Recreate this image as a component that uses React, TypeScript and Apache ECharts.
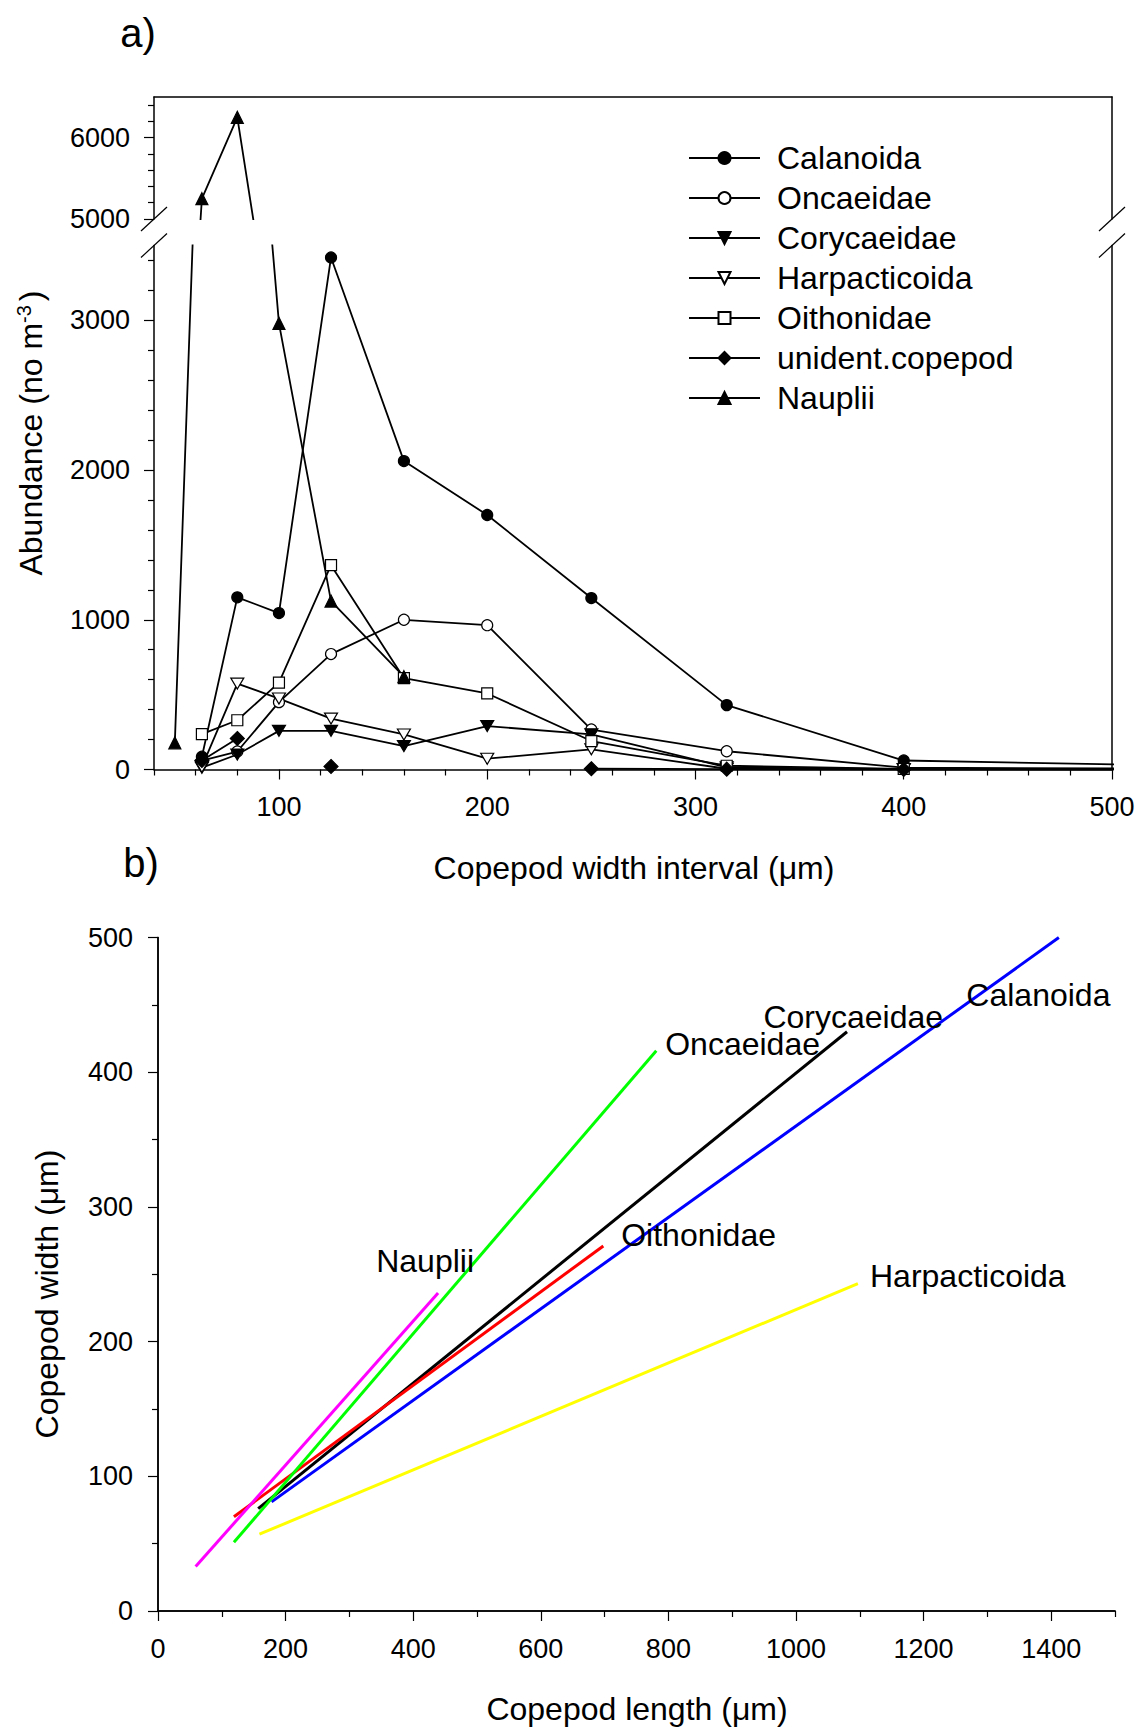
import React, { useEffect, useRef } from "react";
import * as echarts from "echarts";

const FONT = '"Liberation Sans", Arial, Helvetica, sans-serif';

// ---------- Panel a: abundance per width class ----------
const sizeClasses = [50, 63, 80, 100, 125, 160, 200, 250, 315, 400, 630];
const calanoida = [null, 85, 1150, 1045, 3420, 2060, 1700, 1145, 430, 60, 0];
const oncaeidae = [null, 60, 120, 450, 771, 1000, 964, 267, 122, 12, 0];
const corycaeidae = [null, 12, 100, 258, 258, 156, 290, 235, 15, 3, 0];
const harpacticoida = [null, 18, 574, 474, 340, 234, 72, 135, 5, 1, 0];
const oithonidae = [null, 236, 329, 580, 1365, 610, 508, 190, 25, 4, 0];
const unident = [null, 60, 207, null, 20, null, null, 5, 2, 0, 0];
const nauplii = [178, 5250, 6250, 2980, 1125, 620, null, null, null, null, null];

const xLabelsA = [100, 200, 300, 400, 500];
const yLabelsLower = [0, 1000, 2000, 3000];
const yLabelsUpper = [5000, 6000];

// ---------- Panel b: width vs length regressions ----------
const lenB_Nauplii = [59, 439];
const widB_Nauplii = [33, 236];
const lenB_Oncaeidae = [119, 781];
const widB_Oncaeidae = [51, 416];
const lenB_Corycaeidae = [157, 1080];
const widB_Corycaeidae = [76, 430];
const lenB_Calanoida = [178, 1412];
const widB_Calanoida = [81, 500];
const lenB_Oithonidae = [119, 698];
const widB_Oithonidae = [70, 271];
const lenB_Harpacticoida = [159, 1097];
const widB_Harpacticoida = [57, 243];

const labelNamesB = ["Nauplii", "Oncaeidae", "Corycaeidae", "Calanoida", "Oithonidae", "Harpacticoida"];
const labelLenB = [342, 795, 949, 1267, 726, 1116];
const labelWidB = [260, 421, 441, 457, 279, 249];

const xLabelsB = [0, 200, 400, 600, 800, 1000, 1200, 1400];
const yLabelsB = [0, 100, 200, 300, 400, 500];

const range = (a: number, b: number, s: number) => {
  const out: number[] = [];
  for (let v = a; v <= b + 1e-9; v += s) out.push(v);
  return out;
};

const DOWN_TRI = "path://M0,0 L12,0 L6,11 Z";

function lineA(
  name: string,
  values: (number | null)[],
  symbol: string,
  filled: boolean,
  size: number | number[],
  xi = 1,
  yi = 3
) {
  return {
    type: "line",
    name,
    xAxisIndex: xi,
    yAxisIndex: yi,
    data: sizeClasses.map((x, i) => [x, values[i] == null ? "-" : values[i]]),
    symbol,
    symbolSize: size,
    showAllSymbol: true,
    symbolKeepAspect: true,
    itemStyle: { color: filled ? "#000" : "#fff", borderColor: "#000", borderWidth: 1.2 },
    lineStyle: { color: "#000", width: 1.8 },
    connectNulls: false,
    clip: true,
  };
}

function lineB(name: string, xs: number[], ys: number[], color: string) {
  return {
    type: "line",
    name,
    xAxisIndex: 3,
    yAxisIndex: 6,
    data: xs.map((x, i) => [x, ys[i]]),
    symbol: "none",
    lineStyle: { color, width: 3 },
    clip: true,
  };
}

const axisLineStyle = { show: true, lineStyle: { color: "#000", width: 1.5 } };
const labelStyle = { color: "#000", fontSize: 27, fontFamily: FONT };
const plain = (v: number) => String(v);

function lineOnly(gridIndex: number, min: number, max: number, position: string) {
  return {
    type: "value",
    gridIndex,
    min,
    max,
    position,
    axisLine: axisLineStyle,
    axisTick: { show: false },
    axisLabel: { show: false },
    splitLine: { show: false },
  };
}

function minorAxis(gridIndex: number, min: number, max: number, position: string, vals: number[]) {
  return {
    type: "value",
    gridIndex,
    min,
    max,
    position,
    axisLine: { show: false },
    axisTick: { show: true, length: 6, customValues: vals, lineStyle: { color: "#000", width: 1.2 } },
    axisLabel: { show: false },
    splitLine: { show: false },
  };
}

function mainAxis(
  gridIndex: number,
  min: number,
  max: number,
  position: string,
  labels: number[],
  margin: number
) {
  return {
    type: "value",
    gridIndex,
    min,
    max,
    position,
    axisLine: axisLineStyle,
    axisTick: { show: true, length: 10, customValues: labels, lineStyle: { color: "#000", width: 1.2 } },
    axisLabel: { show: true, customValues: labels, margin, formatter: plain, ...labelStyle },
    splitLine: { show: false },
  };
}

export default function App() {
  const ref = useRef<HTMLDivElement>(null);

  useEffect(() => {
    document.body.style.margin = "0";
    if (!ref.current) return;
    const chart = echarts.init(ref.current, undefined, { renderer: "svg" });

    const option: any = {
      animation: false,
      backgroundColor: "#fff",
      grid: [
        { left: 154, width: 958, top: 97, height: 122 },
        { left: 154, width: 958, top: 245.5, height: 524 },
        { left: 158, width: 957, top: 937.5, height: 673.5 },
      ],
      xAxis: [
        lineOnly(0, 40, 500, "top"),
        mainAxis(1, 40, 500, "bottom", xLabelsA, 24),
        minorAxis(1, 40, 500, "bottom", range(40, 480, 20).filter((v) => v % 100 !== 0)),
        mainAxis(2, 0, 1500, "bottom", xLabelsB, 24),
        minorAxis(2, 0, 1500, "bottom", range(100, 1500, 200)),
        lineOnly(2, 0, 1500, "top"),
      ],
      yAxis: [
        mainAxis(0, 5000, 6500, "left", yLabelsUpper, 24),
        minorAxis(0, 5000, 6500, "left", [5200, 5400, 5600, 5800, 6200, 6400]),
        lineOnly(0, 5000, 6500, "right"),
        mainAxis(1, 0, 3500, "left", yLabelsLower, 24),
        minorAxis(1, 0, 3500, "left", range(200, 3400, 200).filter((v) => v % 1000 !== 0)),
        lineOnly(1, 0, 3500, "right"),
        mainAxis(2, 0, 500, "left", yLabelsB, 25),
        minorAxis(2, 0, 500, "left", [50, 150, 250, 350, 450]),
        lineOnly(2, 0, 500, "right"),
      ],
      legend: {
        orient: "vertical",
        left: 683,
        top: 137,
        itemWidth: 71,
        itemHeight: 15,
        itemGap: 8,
        data: ["Calanoida", "Oncaeidae", "Corycaeidae", "Harpacticoida", "Oithonidae", "unident.copepod", "Nauplii"],
        textStyle: { color: "#000", fontSize: 32, fontFamily: FONT, padding: [0, 0, 0, 12] },
        selectedMode: false,
      },
      series: [
        lineA("Calanoida", calanoida, "circle", true, 11),
        lineA("Oncaeidae", oncaeidae, "circle", false, 11),
        lineA("Corycaeidae", corycaeidae, DOWN_TRI, true, [13, 12]),
        lineA("Harpacticoida", harpacticoida, DOWN_TRI, false, [13, 12]),
        lineA("Oithonidae", oithonidae, "rect", false, 11),
        lineA("unident.copepod", unident, "diamond", true, 14),
        lineA("Nauplii", nauplii, "triangle", true, 12),
        lineA("Nauplii-upper", nauplii, "triangle", true, 12, 0, 0),
        lineB("b-Calanoida", lenB_Calanoida, widB_Calanoida, "#0000FF"),
        lineB("b-Corycaeidae", lenB_Corycaeidae, widB_Corycaeidae, "#000000"),
        lineB("b-Harpacticoida", lenB_Harpacticoida, widB_Harpacticoida, "#FFFF00"),
        lineB("b-Oithonidae", lenB_Oithonidae, widB_Oithonidae, "#FF0000"),
        lineB("b-Oncaeidae", lenB_Oncaeidae, widB_Oncaeidae, "#00FF00"),
        lineB("b-Nauplii", lenB_Nauplii, widB_Nauplii, "#FF00FF"),
      ],
    };
    chart.setOption(option);

    const px = (xi: number, yi: number, v: number[]) =>
      chart.convertToPixel({ xAxisIndex: xi, yAxisIndex: yi } as any, v) as number[];

    const breaks = [px(0, 0, [40, 5000]), px(1, 3, [40, 3500]), px(0, 0, [500, 5000]), px(1, 3, [500, 3500])];
    const graphic: any[] = breaks.map(([cx, cy]) => ({
      type: "line",
      shape: { x1: cx - 13, y1: cy + 12, x2: cx + 13, y2: cy - 12 },
      style: { stroke: "#000", lineWidth: 1.2 },
      z: 100,
    }));

    labelNamesB.forEach((name, i) => {
      const [x, y] = px(3, 6, [labelLenB[i], labelWidB[i]]);
      graphic.push({
        type: "text",
        x,
        y,
        style: { text: name, fontSize: 32, fontFamily: FONT, fill: "#000", align: "left", verticalAlign: "middle" },
        z: 100,
      });
    });

    const txt = (text: string, x: number, y: number, size: number, rotation = 0, rich?: any) => ({
      type: "text",
      x,
      y,
      rotation,
      style: {
        text,
        fontSize: size,
        fontFamily: FONT,
        fill: "#000",
        align: "center",
        verticalAlign: "middle",
        rich,
      },
      z: 100,
    });

    graphic.push(txt("a)", 138, 33, 40));
    graphic.push(txt("b)", 141, 863, 40));
    graphic.push(txt("Copepod width interval (μm)", 634, 868, 32));
    graphic.push(txt("Copepod length (μm)", 637, 1709, 32));
    graphic.push(
      txt("Abundance (no m{sup|-3})", 31, 433, 32, Math.PI / 2, {
        sup: { fontSize: 20, fontFamily: FONT, fill: "#000", verticalAlign: "top", padding: [0, 4, 14, 0] },
      })
    );
    graphic.push(txt("Copepod width (μm)", 47, 1294, 32, Math.PI / 2));

    chart.setOption({ graphic });

    return () => chart.dispose();
  }, []);

  return <div ref={ref} style={{ width: 1144, height: 1731 }} />;
}
